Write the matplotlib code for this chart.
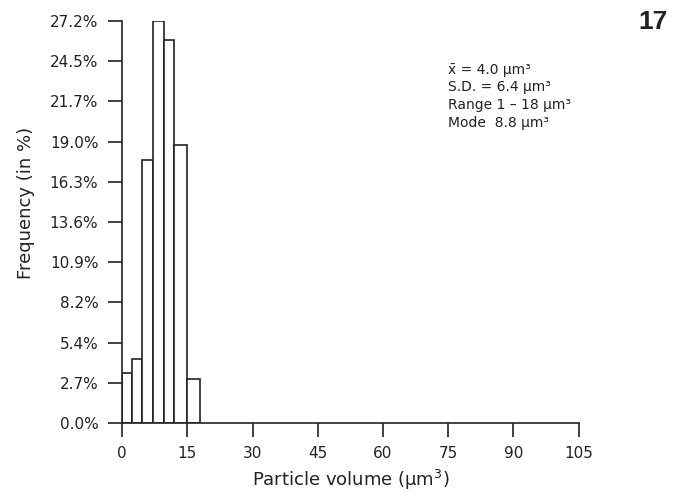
import numpy as np
import matplotlib
matplotlib.use("Agg")
import matplotlib.pyplot as plt

plt.rcParams['font.family'] = ['DejaVu Sans']
plt.rcParams['mathtext.fontset'] = 'dejavusans'

# histogram of particle volumes (um^3), frequency in percent
bin_edges = [0.0, 2.2, 4.5, 7.1, 9.7, 12.0, 15.0, 17.9]
freq_pct = [3.4, 4.3, 17.8, 27.2, 25.9, 18.8, 3.0]

xticks = [0, 15, 30, 45, 60, 75, 90, 105]
ytick_labels = ['0.0%', '2.7%', '5.4%', '8.2%', '10.9%', '13.6%',
                '16.3%', '19.0%', '21.7%', '24.5%', '27.2%']
ytick_vals = [27.2 * i / 10 for i in range(11)]

stats_lines = ['x\u0304 = 4.0 \u00b5m\u00b3',
               'S.D. = 6.4 \u00b5m\u00b3',
               'Range 1 \u2013 18 \u00b5m\u00b3',
               'Mode  8.8 \u00b5m\u00b3']

ink = '#222222'

fig = plt.figure(figsize=(6.78, 4.93), dpi=100)
ax = fig.add_axes([0.18, 0.142, 0.6736, 0.8154])

left = np.array(bin_edges[:-1])
widths = np.diff(bin_edges)
ax.bar(left, freq_pct, width=widths, align='edge',
       facecolor='white', edgecolor=ink, linewidth=1.2)

ax.set_xlim(0, 105)
ax.set_ylim(0, 27.2)
ax.set_xticks(xticks)
ax.set_yticks(ytick_vals)
ax.set_yticklabels(ytick_labels)

for s in ['top', 'right']:
    ax.spines[s].set_visible(False)
for s in ['left', 'bottom']:
    ax.spines[s].set_linewidth(1.2)
    ax.spines[s].set_color(ink)

ax.tick_params(axis='both', direction='out', length=10, width=1.2,
               color=ink, labelsize=11, labelcolor=ink)
ax.tick_params(axis='x', pad=6.5)
ax.tick_params(axis='y', pad=7)

ax.set_xlabel('Particle volume (\u00b5m$^3$)', fontsize=13,
              color=ink, labelpad=5)
ax.set_ylabel('Frequency (in %)', fontsize=13, color=ink)
ax.yaxis.set_label_coords(-0.19, 0.547)

# summary statistics block
for i, line in enumerate(stats_lines):
    fig.text(448 / 678, 1 - (70 + 17.5 * i) / 493, line, fontsize=10,
             color=ink, va='center', ha='left')

fig.text(668 / 678, 1 - 22 / 493, '17', fontsize=19, fontweight='bold',
         family='Liberation Sans', color=ink, va='center', ha='right')

fig.savefig('out.png', dpi=100)
